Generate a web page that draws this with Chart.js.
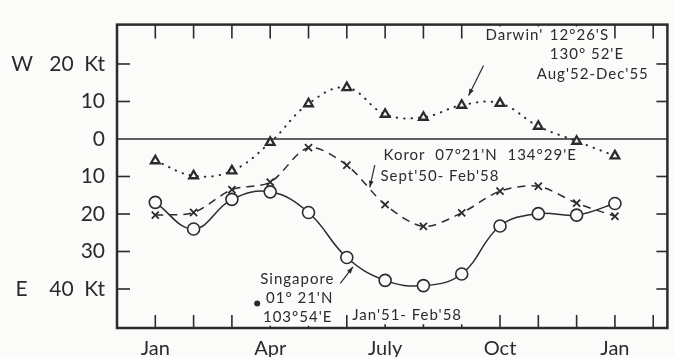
<!DOCTYPE html>
<html>
<head>
<meta charset="utf-8">
<script src="https://cdn.jsdelivr.net/npm/chart.js@4/dist/chart.umd.min.js"></script>
<style>
  html, body { margin: 0; padding: 0; background: #fbfbfa; }
  #wrap { width: 675px; height: 357px; }
</style>
</head>
<body>
<div id="wrap"><canvas id="chart" width="675" height="357"></canvas></div>
<script>
// month index: 0 = Jan ... 12 = following Jan
const months = [0, 1, 2, 3, 4, 5, 6, 7, 8, 9, 10, 11, 12];

// mean wind, knots (+ = westerly, - = easterly)
const darwin    = [-5.8, -9.8, -8.5, -0.9, 9.4, 13.7, 6.6, 5.8, 9.0, 9.5, 3.4, -0.6, -4.5];
const koror     = [-20.3, -19.6, -13.5, -11.5, -2.3, -7.0, -17.5, -23.3, -19.7, -13.9, -12.6, -17.1, -20.6];
const singapore = [-16.9, -24.0, -16.1, -14.1, -19.6, -31.6, -37.7, -39.1, -36.0, -23.2, -19.9, -20.3, -17.2];

// axis ticks
const xTickMonths  = [0, 1, 2, 3, 4, 5, 6, 7, 8, 9, 10, 11, 12, 13];
const xLabelMonths = [0, 3, 6, 9, 12];
const xLabels      = ['Jan', 'Apr', 'July', 'Oct', 'Jan'];
const yTickVals    = [20, 10, 0, -10, -20, -30, -40];
const yTickLabels  = ['W   20  Kt', '10', '0', '10', '20', '30', 'E    40  Kt'];

const ink = '#2b2b2b';
const paper = '#fbfbfa';
const font = 'Lato';

const pts = arr => months.map((m, i) => ({ x: m, y: arr[i] }));

function seg(ctx, x1, y1, x2, y2) {
    ctx.beginPath();
    ctx.moveTo(x1, y1);
    ctx.lineTo(x2, y2);
    ctx.stroke();
}

function arrow(ctx, x1, y1, x2, y2) {
    seg(ctx, x1, y1, x2, y2);
    const ang = Math.atan2(y2 - y1, x2 - x1);
    const len = 7, w = 0.35;
    ctx.beginPath();
    ctx.moveTo(x2, y2);
    ctx.lineTo(x2 - len * Math.cos(ang - w), y2 - len * Math.sin(ang - w));
    ctx.lineTo(x2 - len * Math.cos(ang + w), y2 - len * Math.sin(ang + w));
    ctx.closePath();
    ctx.fill();
}

// station labels, placed in data units (month, knots)
const notes = [
    { t: "Darwin'", m: 8.62, v: 27.6, box: true },
    { t: "12°26'S", m: 10.30, v: 27.6, box: true },
    { t: "130° 52'E", m: 10.30, v: 22.5 },
    { t: "Aug'52-Dec'55", m: 9.96, v: 17.3 },
    { t: "Koror  07°21'N  134°29'E", m: 5.96, v: -4.4 },
    { t: "Sept'50- Feb'58", m: 5.88, v: -9.8 },
    { t: "Singapore", m: 2.74, v: -37.5 },
    { t: "01° 21'N", m: 2.89, v: -42.4 },
    { t: "103°54'E", m: 2.81, v: -47.4, box: true },
    { t: "Jan'51- Feb'58", m: 5.14, v: -47.0, box: true }
];
const arrows = [
    [8.57, 19.6, 8.18, 11.6],
    [5.73, -7.0, 5.60, -12.9],
    [4.83, -38.5, 5.16, -34.1]
];

const framePlugin = {
    id: 'frame',
    beforeDraw(chart) {
        const ctx = chart.ctx;
        ctx.save();
        ctx.fillStyle = paper;
        ctx.fillRect(0, 0, chart.width, chart.height);
        ctx.restore();
    },
    beforeDatasetsDraw(chart) {
        const { ctx, chartArea: a, scales: { x, y } } = chart;
        ctx.save();
        ctx.strokeStyle = ink;

        // zero line
        ctx.lineWidth = 1.4;
        const y0 = y.getPixelForValue(0);
        seg(ctx, a.left, y0, a.right, y0);

        // inward tick marks on all four sides
        ctx.lineWidth = 1.6;
        xTickMonths.forEach(m => {
            const px = x.getPixelForValue(m);
            seg(ctx, px, a.top, px, a.top + 14);
            seg(ctx, px, a.bottom, px, a.bottom - 13);
        });
        yTickVals.forEach(v => {
            if (v === 0) return;
            const py = y.getPixelForValue(v);
            seg(ctx, a.left, py, a.left + 13, py);
            seg(ctx, a.right, py, a.right - 11, py);
        });
        ctx.restore();
    },
    afterDraw(chart) {
        const { ctx, chartArea: a, scales: { x, y } } = chart;
        ctx.save();

        // frame
        ctx.strokeStyle = ink;
        ctx.lineWidth = 2.5;
        ctx.strokeRect(a.left, a.top, a.right - a.left, a.bottom - a.top);

        // text labels
        ctx.font = '15px ' + font;
        ctx.letterSpacing = '1px';
        ctx.textBaseline = 'middle';
        ctx.textAlign = 'left';
        notes.forEach(n => {
            const px = x.getPixelForValue(n.m);
            const py = y.getPixelForValue(n.v);
            if (n.box) {
                const w = ctx.measureText(n.t).width;
                ctx.fillStyle = paper;
                ctx.fillRect(px - 3, py - 9, w + 6, 18);
            }
            ctx.fillStyle = ink;
            ctx.fillText(n.t, px, py);
        });

        // pointer arrows
        ctx.lineWidth = 1.2;
        ctx.strokeStyle = ink;
        ctx.fillStyle = ink;
        arrows.forEach(([m1, v1, m2, v2]) => {
            arrow(ctx, x.getPixelForValue(m1), y.getPixelForValue(v1),
                       x.getPixelForValue(m2), y.getPixelForValue(v2));
        });

        // ink blot next to the Singapore label
        ctx.beginPath();
        ctx.arc(x.getPixelForValue(2.66), y.getPixelForValue(-43.9), 3, 0, Math.PI * 2);
        ctx.fill();
        ctx.restore();
    }
};

new Chart(document.getElementById('chart'), {
    type: 'line',
    data: {
        datasets: [
            {
                label: 'Singapore',
                data: pts(singapore),
                borderColor: ink,
                borderWidth: 1.5,
                tension: 0.4,
                pointStyle: 'circle',
                pointRadius: 6,
                pointBorderWidth: 1.6,
                pointBorderColor: ink,
                pointBackgroundColor: paper
            },
            {
                label: 'Koror',
                data: pts(koror),
                borderColor: ink,
                borderWidth: 1.5,
                borderDash: [8, 6],
                tension: 0.3,
                pointStyle: 'crossRot',
                pointRadius: 5,
                pointBorderWidth: 1.8,
                pointBorderColor: ink
            },
            {
                label: 'Darwin',
                data: pts(darwin),
                borderColor: ink,
                borderWidth: 2,
                borderDash: [0.5, 7],
                borderCapStyle: 'round',
                tension: 0.4,
                pointStyle: 'triangle',
                pointRadius: 5,
                pointBorderWidth: 2.3,
                pointBorderColor: ink,
                pointBackgroundColor: paper
            }
        ]
    },
    options: {
        responsive: false,
        animation: false,
        layout: { padding: { top: 15, right: 1, left: 0, bottom: 0 } },
        plugins: {
            legend: { display: false },
            tooltip: { enabled: false }
        },
        scales: {
            x: {
                type: 'linear',
                min: -1,
                max: 13.37,
                grid: { display: false, drawTicks: false },
                border: { display: false },
                afterBuildTicks: s => { s.ticks = xLabelMonths.map(v => ({ value: v })); },
                afterFit: s => { s.height = 29; },
                ticks: {
                    callback: (v, i) => xLabels[i],
                    color: ink,
                    font: { family: font, size: 20 },
                    padding: 9,
                    autoSkip: false,
                    maxRotation: 0
                }
            },
            y: {
                min: -50.4,
                max: 30.5,
                grid: { display: false, drawTicks: false },
                border: { display: false },
                afterBuildTicks: s => { s.ticks = yTickVals.map(v => ({ value: v })); },
                afterFit: s => { s.width = 117; },
                ticks: {
                    callback: (v, i) => yTickLabels[i],
                    color: ink,
                    font: { family: font, size: 21 },
                    padding: 12
                }
            }
        }
    },
    plugins: [framePlugin]
});
</script>
</body>
</html>
